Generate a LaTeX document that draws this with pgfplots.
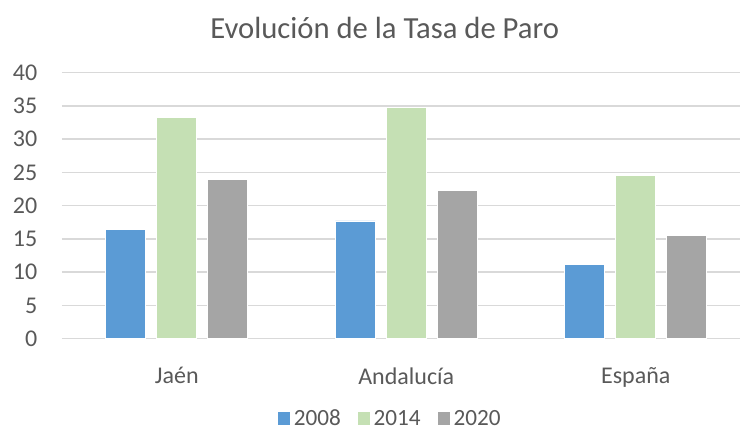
\documentclass[border=0pt]{standalone}
\usepackage{pgfplots}
\pgfplotsset{compat=1.18}
\usepackage{fontspec}
\setmainfont{Carlito}
\definecolor{cblue}{HTML}{5B9BD5}
\definecolor{cgreen}{HTML}{C5E0B4}
\definecolor{cgray}{HTML}{A5A5A5}
\definecolor{gridc}{HTML}{D9D9D9}
\definecolor{txt}{HTML}{595959}
\begin{document}
\begin{tikzpicture}
\useasboundingbox (0,0) rectangle (555pt,322.5pt);
\begin{axis}[
  at={(46.5pt,68.5pt)}, anchor=south west,
  scale only axis, width=508.5pt, height=199.5pt,
  xmin=-0.5, xmax=2.454, ymin=0, ymax=40,
  ytick={0,5,...,40},
  xtick={0,1,2}, xticklabels={Jaén,Andalucía,España},
  major tick length=0pt, tick style={draw=none},
  xmajorgrids=false, ymajorgrids, grid style={draw=gridc, line width=1.2pt},
  axis line style={draw=none},
  /pgf/number format/assume math mode=true,
  tick label style={font=\fontsize{18}{21}\selectfont, text=txt},
  yticklabel style={xshift=-15pt},
  xticklabel style={yshift=-18pt},
  ybar, bar width=0.174,
  clip=false,
  legend style={at={(0.484,-0.30)}, anchor=center, draw=none, legend columns=3,
    font=\fontsize{17.4}{20}\selectfont, text=txt, inner sep=1pt,
    /tikz/every even column/.append style={column sep=10pt}},
  legend image code/.code={\fill[#1] (0pt,-5pt) rectangle (10pt,5pt);},
]
\addplot[fill=cblue, draw=white, line width=0.6pt, bar shift=-0.222] coordinates {(0,16.4) (1,17.7) (2,11.2)};
\addplot[fill=cgreen, draw=white, line width=0.6pt, bar shift=0] coordinates {(0,33.3) (1,34.8) (2,24.5)};
\addplot[fill=cgray, draw=white, line width=0.6pt, bar shift=0.222] coordinates {(0,24.0) (1,22.3) (2,15.5)};
\legend{2008,2014,2020}
\node[font=\fontsize{23}{27}\selectfont, text=txt] at (rel axis cs:0.476,1) [yshift=33.5pt] {Evolución de la Tasa de Paro};
\end{axis}
\end{tikzpicture}
\end{document}
